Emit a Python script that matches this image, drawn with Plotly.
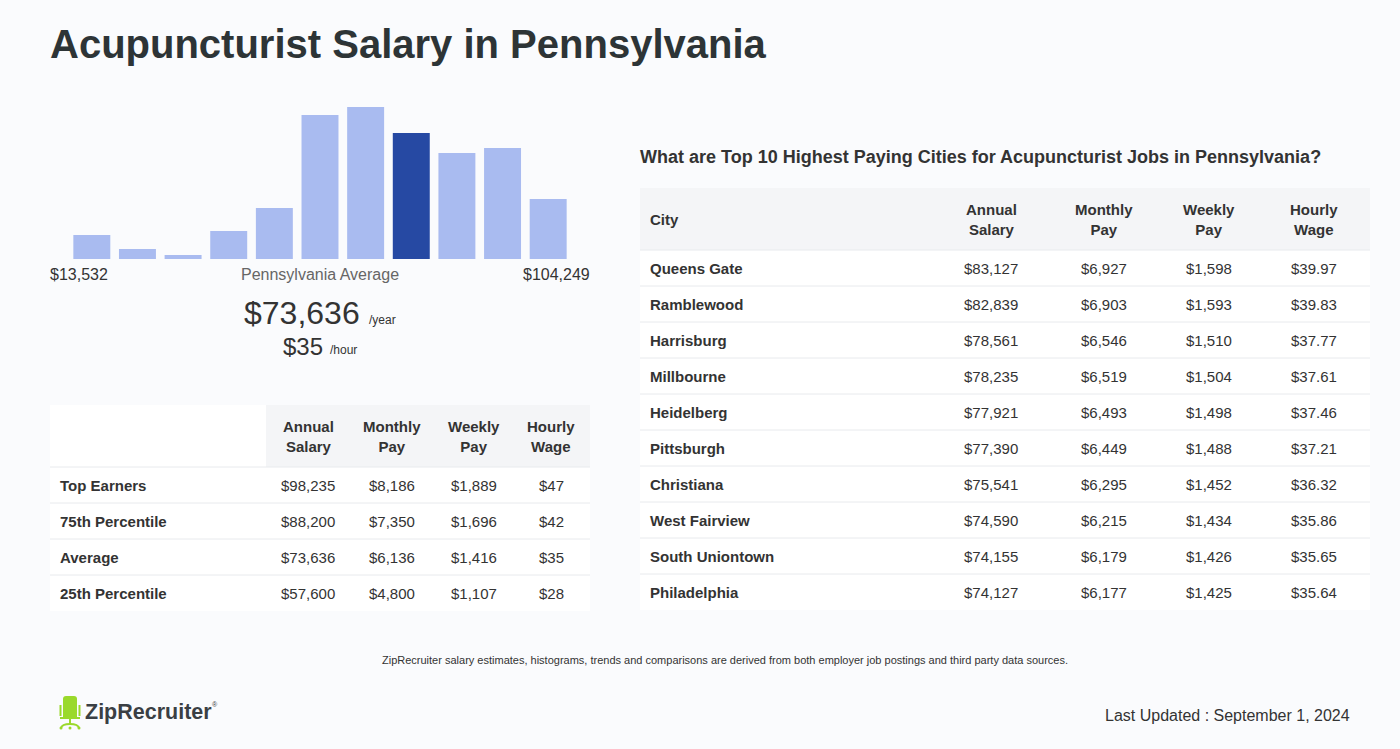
import plotly.graph_objects as go

# ---------------- data ----------------
hist_counts = [24, 10, 4, 28, 51, 144, 152, 126, 106, 111, 60]
hist_highlight_index = 7
range_low = "$13,532"
range_high = "$104,249"
avg_year = "$73,636"
avg_hour = "$35"

pct_columns = ["Annual<br>Salary", "Monthly<br>Pay", "Weekly<br>Pay", "Hourly<br>Wage"]
pct_labels = ["Top Earners", "75th Percentile", "Average", "25th Percentile"]
pct_annual = ["$98,235", "$88,200", "$73,636", "$57,600"]
pct_monthly = ["$8,186", "$7,350", "$6,136", "$4,800"]
pct_weekly = ["$1,889", "$1,696", "$1,416", "$1,107"]
pct_hourly = ["$47", "$42", "$35", "$28"]

city_names = ["Queens Gate", "Ramblewood", "Harrisburg", "Millbourne", "Heidelberg",
              "Pittsburgh", "Christiana", "West Fairview", "South Uniontown", "Philadelphia"]
city_annual = ["$83,127", "$82,839", "$78,561", "$78,235", "$77,921",
               "$77,390", "$75,541", "$74,590", "$74,155", "$74,127"]
city_monthly = ["$6,927", "$6,903", "$6,546", "$6,519", "$6,493",
                "$6,449", "$6,295", "$6,215", "$6,179", "$6,177"]
city_weekly = ["$1,598", "$1,593", "$1,510", "$1,504", "$1,498",
               "$1,488", "$1,452", "$1,434", "$1,426", "$1,425"]
city_hourly = ["$39.97", "$39.83", "$37.77", "$37.61", "$37.46",
               "$37.21", "$36.32", "$35.86", "$35.65", "$35.64"]

# ---------------- style ----------------
W, H = 1400, 749
FONT = "Liberation Sans, Arial, Helvetica, sans-serif"
DARK = "#2d3436"
TXT = "#333333"
BG = "#fafbfd"
HDR = "#f4f5f7"
SEP = "#e8eaed"
LIGHT = "#a9bbf0"
HIGHLIGHT = "#2649a3"


def px(x):
    return x / W


def py(y):
    return 1 - y / H


fig = go.Figure()

# ---------------- histogram ----------------
colors = [HIGHLIGHT if i == hist_highlight_index else LIGHT for i in range(len(hist_counts))]
fig.add_trace(go.Bar(x=list(range(len(hist_counts))), y=hist_counts, marker_color=colors,
                     marker_line_width=0, width=0.81, hoverinfo="skip", showlegend=False,
                     xaxis="x", yaxis="y"))

annotations = []
shapes = []


def ann(text, x, y, size, color=TXT, xanchor="center", yanchor="middle", xref="paper", yref="paper", bold=False):
    if bold:
        text = "<b>" + text + "</b>"
    annotations.append(dict(text=text, x=x, y=y, xref=xref, yref=yref, showarrow=False,
                            xanchor=xanchor, yanchor=yanchor, borderpad=0, borderwidth=0,
                            font=dict(family=FONT, size=size, color=color)))


# title
ann("Acupuncturist Salary in Pennsylvania", px(50), py(44), 40, DARK, xanchor="left", bold=True)

# histogram labels
ann(range_low, px(50), py(275), 16, TXT, xanchor="left")
ann("Pennsylvania Average", px(320), py(275), 16, "#666666")
ann(range_high, px(590), py(275), 16, TXT, xanchor="right")
ann(avg_year, px(360), py(313), 32, TXT, xanchor="right")
ann("/year", px(369), py(320), 12, TXT, xanchor="left")
ann(avg_hour, px(323), py(346), 24, TXT, xanchor="right")
ann("/hour", px(330), py(350), 12, TXT, xanchor="left")


# ---------------- tables (drawn on hidden pixel-unit axes) ----------------
def draw_table(xa, ya, width, header_h, row_h, labels, cols, col_centers, header_texts,
               first_header, header_fill_from):
    n = len(labels)
    total = header_h + n * row_h
    shapes.append(dict(type="rect", xref=xa, yref=ya, x0=0, x1=width, y0=0, y1=total,
                       fillcolor="white", line_width=0, layer="below"))
    shapes.append(dict(type="rect", xref=xa, yref=ya, x0=header_fill_from, x1=width, y0=0,
                       y1=header_h, fillcolor=HDR, line_width=0, layer="below"))
    for i in range(n):
        yb = header_h + i * row_h
        shapes.append(dict(type="line", xref=xa, yref=ya, x0=0, x1=width, y0=yb, y1=yb,
                           line=dict(color=SEP, width=1)))
    if first_header:
        ann(first_header, 10, header_h / 2, 15, TXT, xanchor="left", xref=xa, yref=ya, bold=True)
    for cx, t in zip(col_centers, header_texts):
        ann("<b>" + t.replace("<br>", "</b><br><b>") + "</b>", cx, header_h / 2, 15, TXT,
            xref=xa, yref=ya)
    for i, lab in enumerate(labels):
        yc = header_h + (i + 0.5) * row_h
        ann(lab, 10, yc, 15, TXT, xanchor="left", xref=xa, yref=ya, bold=True)
        for cx, col in zip(col_centers, cols):
            ann(col[i], cx, yc, 15, TXT, xref=xa, yref=ya)
    return total


# left table: x 50-590, y 405-611
draw_table("x2", "y2", 540, 62, 36, pct_labels,
           [pct_annual, pct_monthly, pct_weekly, pct_hourly],
           [258, 342, 424, 501], pct_columns, None, 216)

# right table: x 640-1370, y 188-610
draw_table("x3", "y3", 730, 62, 36, city_names,
           [city_annual, city_monthly, city_weekly, city_hourly],
           [351, 464, 569, 674], pct_columns, "City", 0)

ann("What are Top 10 Highest Paying Cities for Acupuncturist Jobs in Pennsylvania?",
    px(640), py(157), 18, TXT, xanchor="left", bold=True)

# footer
ann("ZipRecruiter salary estimates, histograms, trends and comparisons are derived from both employer job postings and third party data sources.",
    px(725), py(660), 11, TXT)
ann("Last Updated : September 1, 2024", px(1350), py(715), 16, TXT, xanchor="right")
ann("<b>ZipRecruiter</b>", px(85), py(712), 21.5, "#3a3f44", xanchor="left")
ann("®", px(212), py(704), 7, "#3a3f44", xanchor="left")

# logo chair (decoration)
G = "#9ad92b"


def pp(x, y):
    return f"{px(x)},{py(y)}"


shapes.append(dict(type="path", xref="paper", yref="paper",
                   path=f"M{pp(63,699)} Q{pp(63,696)} {pp(66,696)} L{pp(74,696)} Q{pp(77,696)} {pp(77,699)} L{pp(77,717)} L{pp(63,717)} Z",
                   fillcolor=G, line_width=0))
for xx in (60.5, 79.5):
    shapes.append(dict(type="line", xref="paper", yref="paper", x0=px(xx), x1=px(xx),
                       y0=py(705), y1=py(716), line=dict(color=G, width=2)))
shapes.append(dict(type="line", xref="paper", yref="paper", x0=px(60), x1=px(80),
                   y0=py(718), y1=py(718), line=dict(color=G, width=2)))
shapes.append(dict(type="line", xref="paper", yref="paper", x0=px(70), x1=px(70),
                   y0=py(718), y1=py(725), line=dict(color=G, width=2)))
shapes.append(dict(type="path", xref="paper", yref="paper",
                   path=f"M{pp(61,728)} Q{pp(62,724)} {pp(70,724)} Q{pp(78,724)} {pp(79,728)}",
                   line=dict(color=G, width=2)))
for xx in (61, 70, 79):
    shapes.append(dict(type="circle", xref="paper", yref="paper", x0=px(xx - 1.5), x1=px(xx + 1.5),
                       y0=py(726.5), y1=py(729.5), fillcolor=G, line_width=0))

hidden = dict(visible=False, showgrid=False, zeroline=False, fixedrange=True)
fig.update_layout(
    width=W, height=H,
    margin=dict(l=0, r=0, t=0, b=0),
    paper_bgcolor=BG, plot_bgcolor="rgba(0,0,0,0)",
    showlegend=False,
    xaxis=dict(domain=[px(69), px(571)], range=[-0.5, 10.5], **hidden),
    yaxis=dict(domain=[py(259), py(100)], range=[0, 159], **hidden),
    xaxis2=dict(domain=[px(50), px(590)], range=[0, 540], anchor="y2", **hidden),
    yaxis2=dict(domain=[py(611), py(405)], range=[206, 0], anchor="x2", **hidden),
    xaxis3=dict(domain=[px(640), px(1370)], range=[0, 730], anchor="y3", **hidden),
    yaxis3=dict(domain=[py(610), py(188)], range=[422, 0], anchor="x3", **hidden),
    annotations=annotations,
    shapes=shapes,
)

fig.write_html("out.html", config={"displayModeBar": False},
               post_script="document.body.style.margin='0';document.body.style.overflow='hidden';document.body.style.background='" + BG + "';")
